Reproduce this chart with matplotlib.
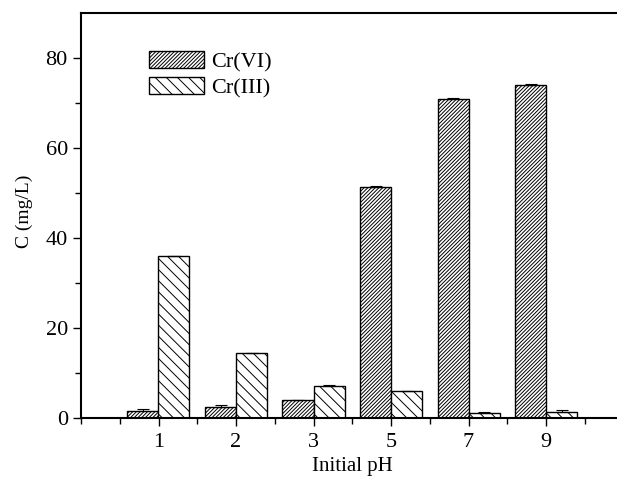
import matplotlib
matplotlib.use('Agg')
import matplotlib.pyplot as plt
import numpy as np

plt.rcParams['font.family'] = ['Liberation Serif', 'DejaVu Serif']
plt.rcParams['hatch.linewidth'] = 0.7

ph_labels = ['1', '2', '3', '5', '7', '9']
cr6 = [1.5, 2.3, 3.8, 51.2, 70.8, 74.0]
cr6_err = [0.5, 0.5, 0.2, 0.4, 0.2, 0.3]
cr3 = [36.0, 14.3, 6.9, 6.0, 1.0, 1.3]
cr3_err = [0.0, 0.0, 0.4, 0.0, 0.3, 0.4]

fig = plt.figure(figsize=(6.17, 4.9), dpi=100)
# axes is wider than the figure on purpose: right edge is cut off like the original
ax = fig.add_axes([81/617, (490-417.5)/490, 542.5/617, 404.5/490])

x = np.arange(1, len(ph_labels) + 1)
w = 0.4
ekw = dict(ecolor='black', elinewidth=0.8, capsize=4, capthick=0.8)
ax.bar(x - w/2, cr6, w, color='white', edgecolor='black', hatch='/' * 9, linewidth=1.0,
       yerr=[np.zeros(len(cr6)), cr6_err], error_kw=ekw, label='Cr(VI)')
ax.bar(x + w/2, cr3, w, color='white', edgecolor='black', hatch='\\' * 3, linewidth=1.0,
       yerr=[np.zeros(len(cr3)), cr3_err], error_kw=ekw, label='Cr(III)')

ax.set_xlim(0, 7)
ax.set_ylim(0, 90)
ax.set_xticks(x)
ax.set_xticklabels(ph_labels)
ax.set_xticks([0, 0.5, 1.5, 2.5, 3.5, 4.5, 5.5, 6.5], minor=True)
ax.set_yticks([0, 20, 40, 60, 80])
ax.set_yticks([10, 30, 50, 70], minor=True)
ax.tick_params(axis='both', which='major', direction='out', length=6, width=1, labelsize=16)
ax.tick_params(axis='both', which='minor', direction='out', length=4, width=1)
ax.tick_params(axis='x', pad=5)

for s in ['left', 'bottom', 'top']:
    ax.spines[s].set_linewidth(1.5)
ax.spines['right'].set_visible(False)

ax.set_xlabel('Initial pH', fontsize=15, labelpad=4)
ax.set_ylabel('C (mg/L)', fontsize=14)
ax.yaxis.set_label_coords(-0.088, 0.51)

ax.legend(loc='upper left', bbox_to_anchor=(0.088, 0.955), frameon=False, fontsize=16,
          handlelength=2.5, handleheight=0.8, handletextpad=0.3, labelspacing=0.22)

fig.savefig('out.png', dpi=100)
